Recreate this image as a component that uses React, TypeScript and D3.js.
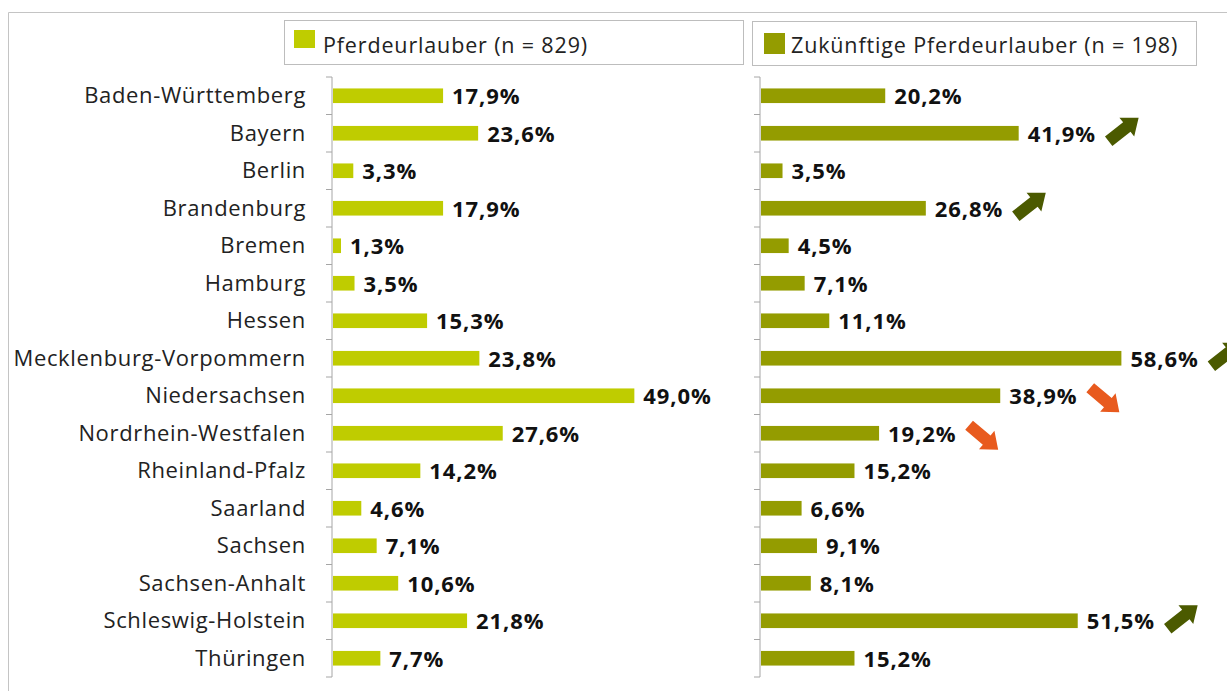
import React from "react";
import * as d3 from "d3";

const categories = [
  "Baden-Württemberg", "Bayern", "Berlin", "Brandenburg", "Bremen", "Hamburg", "Hessen",
  "Mecklenburg-Vorpommern", "Niedersachsen", "Nordrhein-Westfalen", "Rheinland-Pfalz",
  "Saarland", "Sachsen", "Sachsen-Anhalt", "Schleswig-Holstein", "Thüringen",
];
const pferdeurlauber = [17.9, 23.6, 3.3, 17.9, 1.3, 3.5, 15.3, 23.8, 49.0, 27.6, 14.2, 4.6, 7.1, 10.6, 21.8, 7.7];
const zukuenftige = [20.2, 41.9, 3.5, 26.8, 4.5, 7.1, 11.1, 58.6, 38.9, 19.2, 15.2, 6.6, 9.1, 8.1, 51.5, 15.2];
const seriesNames = ["Pferdeurlauber (n = 829)", "Zukünftige Pferdeurlauber (n = 198)"];
const trendUp = ["Bayern", "Brandenburg", "Mecklenburg-Vorpommern", "Schleswig-Holstein"];
const trendDown = ["Niedersachsen", "Nordrhein-Westfalen"];

const W = 1227, H = 691;
const COL1 = "#bfcc00";
const COL2 = "#949c00";
const UP = "#4b5a00";
const DOWN = "#e85a1e";
const FONT = "'Open Sans', sans-serif";

const y = d3.scaleBand<string>().domain(categories).range([77, 677]).paddingInner(0.61).paddingOuter(0.305);
const x = d3.scaleLinear().domain([0, 60]).range([0, 369]);

function arrowPath() {
  const L = 38, hl = 15, sw = 6, hw = 12;
  return `M0,${-sw} L${L - hl},${-sw} L${L - hl},${-hw} L${L},0 L${L - hl},${hw} L${L - hl},${sw} L0,${sw} Z`;
}

function Panel({ x0, values, color, showLabels }: { x0: number; values: number[]; color: string; showLabels: boolean }) {
  const ticks = d3.range(categories.length + 1).map((i) => 77 + i * y.step());
  return (
    <g>
      {showLabels && categories.map((c) => (
        <text key={c} x={x0 - 26} y={(y(c) as number) + y.bandwidth() / 2} dy="0.35em" textAnchor="end"
          fontFamily={FONT} fontSize={22} letterSpacing={0.65} fill="#222">{c}</text>
      ))}
      {categories.map((c, i) => (
        <rect key={c} x={x0 + 1} y={y(c)} width={x(values[i])} height={y.bandwidth()} fill={color} />
      ))}
      {categories.map((c, i) => (
        <text key={c + "v"} x={x0 + 1 + x(values[i]) + 9} y={(y(c) as number) + y.bandwidth() / 2} dy="0.38em"
          fontFamily={FONT} fontSize={22} letterSpacing={0.9} fontWeight="bold" fill="#111">
          {values[i].toFixed(1).replace(".", ",")}%
        </text>
      ))}
      <line x1={x0} x2={x0} y1={77} y2={677} stroke="#a6a6a6" strokeWidth={1} />
      {ticks.map((t, i) => (
        <line key={i} x1={x0 - 6} x2={x0} y1={t} y2={t} stroke="#a6a6a6" strokeWidth={1} />
      ))}
    </g>
  );
}

export default function App() {
  const x1 = 332, x2 = 760;
  return (
    <svg width={W} height={H} style={{ position: "absolute", left: 0, top: 0, background: "#fff" }}>
      <rect x={0} y={0} width={W} height={H} fill="#fff" />
      <line x1={8.5} x2={W} y1={12.5} y2={12.5} stroke="#c4c4c4" />
      <line x1={8.5} x2={8.5} y1={12.5} y2={H} stroke="#c4c4c4" />
      {/* legends */}
      <rect x={284.5} y={20.5} width={459} height={44} fill="#fff" stroke="#bdbdbd" />
      <rect x={294} y={30} width={21} height={18} fill={COL1} />
      <text x={323} y={46} dy="0.34em" fontFamily={FONT} fontSize={21.5} letterSpacing={0.85} fill="#222">{seriesNames[0]}</text>
      <rect x={752.5} y={21.5} width={444} height={44} fill="#fff" stroke="#bdbdbd" />
      <rect x={764} y={33} width={21} height={21} fill={COL2} />
      <text x={791} y={46} dy="0.34em" fontFamily={FONT} fontSize={21.5} letterSpacing={0.85} fill="#222">{seriesNames[1]}</text>
      <Panel x0={x1} values={pferdeurlauber} color={COL1} showLabels={true} />
      <Panel x0={x2} values={zukuenftige} color={COL2} showLabels={false} />
      {categories.map((c, i) => {
        const up = trendUp.includes(c), down = trendDown.includes(c);
        if (!up && !down) return null;
        const cy = (y(c) as number) + y.bandwidth() / 2;
        const tx = x2 + 1 + x(zukuenftige[i]) + 90;
        const ty = up ? cy + 8 : cy - 8;
        return (
          <path key={c + "a"} d={arrowPath()} fill={up ? UP : DOWN}
            transform={`translate(${tx},${ty}) rotate(${up ? -38 : 40})`} />
        );
      })}
    </svg>
  );
}
